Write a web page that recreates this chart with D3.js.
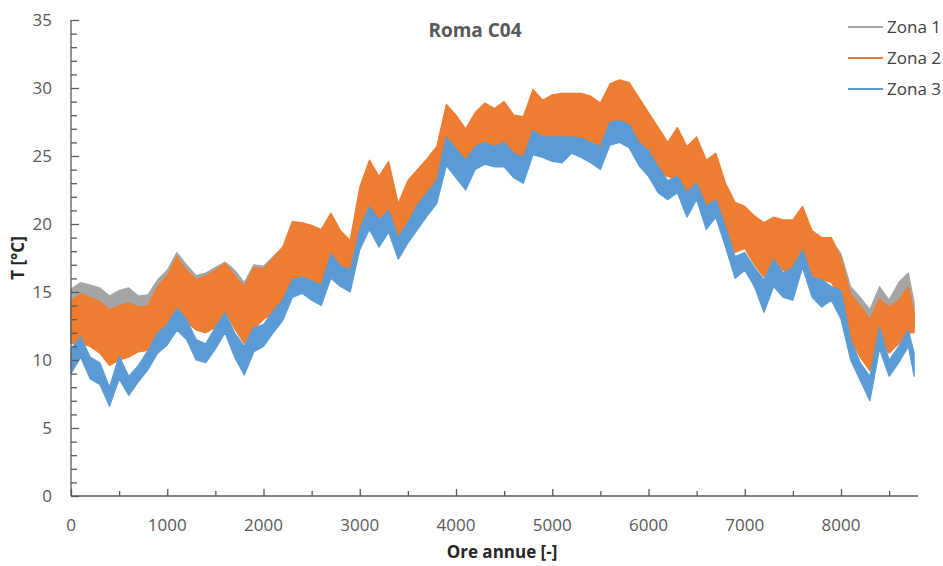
<!DOCTYPE html>
<html>
<head>
<meta charset="utf-8">
<script src="https://cdn.jsdelivr.net/npm/d3@7"></script>
<style>
  body { margin: 0; background: #fff; }
  svg { display: block; }
  text { font-family: "Open Sans", "Liberation Sans", sans-serif; }
</style>
</head>
<body>
<svg id="chart" width="943" height="566"></svg>
<script>
// Sample hours of the year (every 100 h) at which the hourly range is recorded
const hours = [0,100,200,300,400,500,600,700,800,900,1000,1100,1200,1300,1400,1500,1600,1700,1800,1900,
  2000,2100,2200,2300,2400,2500,2600,2700,2800,2900,3000,3100,3200,3300,3400,3500,3600,3700,3800,3900,
  4000,4100,4200,4300,4400,4500,4600,4700,4800,4900,5000,5100,5200,5300,5400,5500,5600,5700,5800,5900,
  6000,6100,6200,6300,6400,6500,6600,6700,6800,6900,7000,7100,7200,7300,7400,7500,7600,7700,7800,7900,
  8000,8100,8200,8300,8400,8500,8600,8700,8760];

// Zona 1 – upper / lower envelope of hourly temperature [°C]
const zona1Hi = [15.2,15.7,15.5,15.3,14.7,15.1,15.3,14.7,14.8,15.9,16.6,17.9,17.0,16.2,16.4,16.8,17.2,16.6,15.7,17.0,
  16.9,17.6,18.3,19.9,19.8,19.6,19.3,20.5,19.2,18.5,22.4,24.4,23.2,24.3,21.2,22.9,23.7,24.5,25.4,28.5,
  27.7,26.7,27.9,28.6,28.2,28.7,27.7,27.6,29.6,28.8,29.2,29.3,29.3,29.3,29.1,28.6,30.0,30.3,30.1,29.0,
  27.9,26.8,25.7,26.8,25.4,26.1,24.4,24.9,22.7,21.3,21.0,20.3,19.8,20.2,20.0,20.0,21.0,19.2,18.7,18.8,
  17.8,15.4,14.6,13.7,15.4,14.4,15.7,16.4,14.2];
const zona1Lo = [11.6,11.6,11.4,10.9,10.0,10.4,10.6,11.0,11.1,12.4,13.1,14.1,13.2,12.6,12.4,12.8,14.0,12.7,11.6,12.7,
  13.4,13.3,14.0,15.6,15.8,15.5,15.2,17.1,16.2,16.1,18.8,20.1,19.9,20.3,18.6,19.6,20.3,21.3,22.5,24.5,
  24.4,23.8,24.4,24.6,24.6,24.6,24.1,23.8,25.3,25.2,24.8,24.8,25.2,25.0,24.8,24.3,26.1,26.2,25.8,24.8,
  24.1,23.5,23.6,23.0,22.0,22.6,21.0,21.3,19.4,18.2,18.5,17.3,16.4,17.3,16.9,16.3,17.5,16.5,16.2,16.0,
  14.7,11.8,10.5,9.5,11.8,10.8,11.5,12.3,12.3];

// Zona 2
const zona2Hi = [14.3,14.9,14.6,14.3,13.7,14.0,14.2,13.9,14.0,15.4,16.2,17.6,16.6,15.9,16.2,16.6,17.1,16.2,15.4,16.8,
  16.7,17.5,18.3,20.2,20.1,19.9,19.6,20.8,19.5,18.8,22.7,24.7,23.5,24.6,21.5,23.2,24.0,24.8,25.7,28.8,
  28.0,27.0,28.2,28.9,28.5,29.0,28.0,27.9,29.9,29.1,29.5,29.6,29.6,29.6,29.4,28.9,30.3,30.6,30.4,29.3,
  28.2,27.1,26.0,27.1,25.7,26.4,24.7,25.2,23.0,21.6,21.3,20.6,20.1,20.5,20.3,20.3,21.3,19.5,19.0,19.0,
  17.5,14.8,14.0,13.0,14.5,13.9,14.4,15.4,13.5];
const zona2Lo = [11.2,11.2,11.0,10.5,9.6,10.0,10.2,10.6,10.7,12.0,12.7,13.7,12.8,12.2,12.0,12.4,13.6,12.3,11.2,12.3,
  13.0,13.4,14.2,15.8,16.0,15.7,15.4,17.3,16.4,16.3,19.0,20.3,20.1,20.5,18.8,19.8,20.5,21.5,22.7,24.7,
  24.6,24.0,24.6,24.8,24.8,24.8,24.3,24.0,25.5,25.4,25.0,25.0,25.4,25.2,25.0,24.5,26.3,26.4,26.0,25.0,
  24.3,23.7,23.5,23.2,22.2,22.8,21.2,21.5,19.6,17.9,18.2,17.0,16.1,17.0,16.6,16.0,17.2,16.2,15.9,15.7,
  14.4,11.5,10.2,9.2,11.5,10.5,11.2,12.0,12.0];

// Zona 3
const zona3Hi = [10.8,11.7,10.2,9.8,8.0,10.3,8.8,9.6,10.7,12.0,12.6,13.8,13.0,11.5,11.2,12.4,13.5,12.0,11.0,12.4,
  12.6,13.6,14.4,15.9,16.1,15.8,15.5,17.8,16.9,16.6,19.6,21.3,20.3,21.0,19.0,20.1,21.4,22.3,23.2,26.4,
  25.5,24.7,25.7,26.0,25.7,26.0,25.2,24.9,26.9,26.4,26.4,26.4,26.4,26.3,26.0,25.7,27.5,27.6,27.3,26.0,
  25.4,24.2,23.2,23.5,22.3,23.0,21.3,21.8,19.8,17.6,17.9,16.8,15.9,17.4,16.4,16.8,18.1,16.1,15.9,15.4,
  15.1,11.5,9.8,8.8,12.4,10.0,11.0,12.2,10.5];
const zona3Lo = [9.0,10.2,8.6,8.2,6.6,8.6,7.4,8.4,9.3,10.5,11.1,12.2,11.5,10.0,9.8,10.8,12.0,10.2,8.9,10.6,
  11.0,12.0,12.9,14.6,14.9,14.4,14.0,16.0,15.4,15.0,18.1,19.6,18.3,19.4,17.4,18.6,19.6,20.6,21.5,24.3,
  23.4,22.5,24.0,24.4,24.2,24.2,23.4,23.0,25.1,24.9,24.6,24.5,25.2,24.9,24.5,24.0,25.8,26.0,25.6,24.3,
  23.5,22.3,21.8,22.3,20.5,21.8,19.6,20.5,18.3,16.0,16.6,15.4,13.5,15.4,14.6,14.4,16.8,14.6,13.9,14.4,
  13.0,10.0,8.5,7.0,10.8,8.8,9.8,11.0,8.8];

const seriesNames = ["Zona 1", "Zona 2", "Zona 3"];
const seriesColors = ["#A5A5A5", "#ED7D31", "#5B9BD5"];
const chartTitle = "Roma C04";
const xTitle = "Ore annue [-]";
const yTitle = "T [°C]";
const xTickValues = [0,1000,2000,3000,4000,5000,6000,7000,8000];
const yTickValues = [0,5,10,15,20,25,30,35];

const svg = d3.select("#chart");
const axisColor = "#595959";

const x = d3.scaleLinear().domain([0, 8800]).range([71, 918]);
const y = d3.scaleLinear().domain([0, 35]).range([496, 20]);

// Temperature bands, one per zone, drawn in legend order
const bands = [[zona1Lo, zona1Hi], [zona2Lo, zona2Hi], [zona3Lo, zona3Hi]];
const area = d3.area()
  .x(d => x(d.h))
  .y0(d => y(d.lo))
  .y1(d => y(d.hi));

bands.forEach(([lo, hi], i) => {
  const rows = hours.map((h, k) => ({ h, lo: lo[k], hi: hi[k] }));
  svg.append("path")
    .datum(rows)
    .attr("d", area)
    .attr("fill", seriesColors[i])
    .attr("stroke", seriesColors[i])
    .attr("stroke-width", 1.2)
    .attr("stroke-linejoin", "round");
});

// Y axis: major ticks every 5 °C, minor every 1 °C, pointing into the plot
const yAxisG = svg.append("g").attr("transform", "translate(71,0)");
yAxisG.call(d3.axisRight(y).tickValues(d3.range(0, 36, 1)).tickSize(6).tickFormat(""));
yAxisG.call(g => g.selectAll(".tick line").filter(d => d % 5 === 0).attr("x2", 8));
yAxisG.selectAll("path, line").attr("stroke", axisColor).attr("stroke-width", 1.3);
yAxisG.select(".domain").attr("d", `M0,${y(35)}V${y(0)}`);

svg.append("g").selectAll("text")
  .data(yTickValues).join("text")
  .attr("x", 52).attr("y", d => y(d)).attr("dy", "0.35em")
  .attr("text-anchor", "end").attr("font-size", 17).attr("fill", axisColor)
  .text(d => d);

// X axis: major ticks every 1000 h, minor at 500 h, pointing up
const xAxisG = svg.append("g").attr("transform", `translate(0,${y(0)})`);
xAxisG.call(d3.axisTop(x).tickValues(d3.range(0, 8800, 500)).tickSize(5).tickFormat(""));
xAxisG.call(g => g.selectAll(".tick line").filter(d => d % 1000 === 0).attr("y2", -7));
xAxisG.selectAll("path, line").attr("stroke", axisColor).attr("stroke-width", 1.3);
xAxisG.select(".domain").attr("d", `M${x(0)},0H${x(8800)}`);

svg.append("g").selectAll("text")
  .data(xTickValues).join("text")
  .attr("x", d => x(d)).attr("y", 531)
  .attr("text-anchor", "middle").attr("font-size", 17).attr("fill", axisColor)
  .text(d => d);

// Titles
svg.append("text").attr("x", 475).attr("y", 37).attr("text-anchor", "middle")
  .attr("font-size", 19).attr("font-weight", "bold").attr("fill", "#595959").text(chartTitle);

svg.append("text").attr("x", 502).attr("y", 558).attr("text-anchor", "middle")
  .attr("font-size", 17).attr("font-weight", "bold").attr("fill", "#262626").text(xTitle);

svg.append("text").attr("transform", "translate(24,258) rotate(-90)").attr("text-anchor", "middle")
  .attr("font-size", 17).attr("font-weight", "bold").attr("fill", "#262626").text(yTitle);

// Legend
const legendY = [27, 58, 89];
const legend = svg.append("g").selectAll("g").data(seriesNames).join("g")
  .attr("transform", (d, i) => `translate(848,${legendY[i]})`);
legend.append("line").attr("x1", 0).attr("x2", 35).attr("y1", 0).attr("y2", 0)
  .attr("stroke", (d, i) => seriesColors[i]).attr("stroke-width", 2);
legend.append("text").attr("x", 39).attr("dy", "0.35em")
  .attr("font-size", 17).attr("fill", "#404040").text(d => d);
</script>
</body>
</html>
